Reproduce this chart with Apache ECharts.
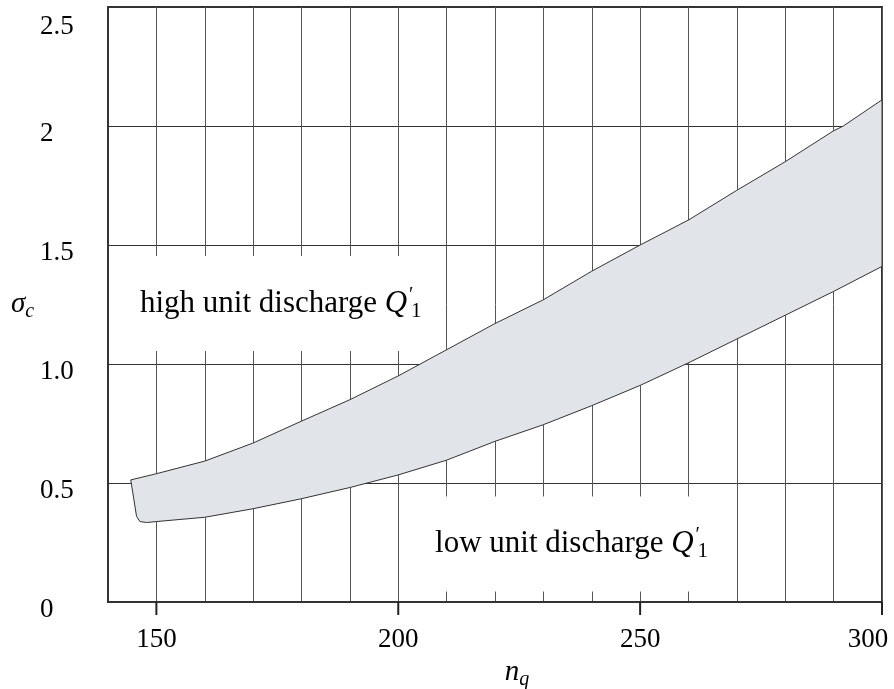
<!DOCTYPE html>
<html lang="en">
<head>
<meta charset="UTF-8">
<title>sigma_c - n_q</title>
<script src="https://cdn.jsdelivr.net/npm/echarts@6/dist/echarts.min.js"></script>
<style>html,body{margin:0;padding:0;background:#fff;}</style>
</head>
<body>
<div id="main" style="width:894px;height:689px;"></div>
<script type="text/javascript">

// upper boundary of the band (n_q, sigma_c)
const upperNq    = [144.7, 150,   160,   170,   180,  190,  200,  210,  220,  230,  240,  250,  260,   270,  280,  290,  292, 300];
const upperSigma = [0.513, 0.539, 0.592, 0.668, 0.76, 0.85, 0.95, 1.06, 1.17, 1.27, 1.39, 1.50, 1.605, 1.73, 1.85, 1.98, 2.0, 2.11];

// lower boundary of the band, left to right
const lowerNq    = [145.9, 146.6, 148,   150,   160,   170,   180,   190,   200,   210,   220,   230,   240,   250,  260,   270,   280,   290,   300];
const lowerSigma = [0.36,  0.338, 0.334, 0.338, 0.356, 0.392, 0.434, 0.481, 0.534, 0.596, 0.675, 0.745, 0.825, 0.91, 1.005, 1.105, 1.205, 1.305, 1.41];

const xTickValues = [150, 200, 250, 300];
const yTickValues = [0, 0.5, 1, 1.5, 2, 2.5];
const yTickLabels = ['0', '0.5', '1.0', '1.5', '2', '2.5'];

// the two notes, anchored at the left edge of the text
const noteNq    = [146.6, 207.6];
const noteSigma = [1.254, 0.244];
const noteText  = ['high unit discharge', 'low unit discharge'];

const serif = "'Liberation Serif', 'DejaVu Serif', serif";

let myChart = echarts.init(document.getElementById('main'));

let option = {
    backgroundColor: '#fff',
    animation: false,
    grid: {
        left: 108, right: 12, top: 7, bottom: 87,
        outerBoundsMode: 'none',
        show: true,
        borderColor: '#333',
        borderWidth: 2
    },
    xAxis: {
        // grid every 10, labels only on the 50s
        type: 'value',
        min: 140, max: 300, interval: 10,
        name: '{n|n}{s|q}',
        nameLocation: 'middle',
        nameGap: 50,
        nameTextStyle: {
            padding: [0, 0, 0, 44],
            rich: {
                n: { fontFamily: serif, fontStyle: 'italic', fontSize: 29, color: '#000' },
                s: { fontFamily: serif, fontStyle: 'italic', fontSize: 20, color: '#000', padding: [14, 0, 0, 0] }
            }
        },
        axisLine: { lineStyle: { color: '#333', width: 2 } },
        axisTick: { show: false },
        axisLabel: {
            margin: 24,
            formatter: function (v) {
                if (xTickValues.indexOf(v) < 0) return '';
                // last label sits a bit left of its tick, as in the original
                return v === 300 ? '{e|' + v + '}' : '{n|' + v + '}';
            },
            rich: {
                n: { fontFamily: serif, fontSize: 27, color: '#000' },
                e: { fontFamily: serif, fontSize: 27, color: '#000', padding: [0, 28, 0, 0] }
            }
        },
        splitLine: { show: true, lineStyle: { color: '#555', width: 1 } }
    },
    yAxis: {
        type: 'value',
        min: 0, max: 2.5, interval: 0.5,
        name: '{i|σ}{s|c}',
        nameLocation: 'middle',
        nameRotate: 0,
        nameGap: 58,
        nameTextStyle: {
            rich: {
                i: { fontFamily: serif, fontStyle: 'italic', fontSize: 29, color: '#000' },
                s: { fontFamily: serif, fontStyle: 'italic', fontSize: 20, color: '#000', padding: [14, 0, 0, 0] }
            }
        },
        axisLine: { show: true, lineStyle: { color: '#333', width: 2 } },
        axisTick: { show: false },
        axisLabel: {
            align: 'left',
            margin: 68,
            formatter: function (v) {
                let idx = yTickValues.indexOf(v);
                let txt = idx >= 0 ? yTickLabels[idx] : '';
                return v === 2.5 ? '{t|' + txt + '}' : '{n|' + txt + '}';
            },
            rich: {
                n: { fontFamily: serif, fontSize: 27, color: '#000', padding: [16, 0, 0, 0] },
                t: { fontFamily: serif, fontSize: 27, color: '#000', padding: [40, 0, 0, 0] }
            }
        },
        splitLine: { show: true, lineStyle: { color: '#333', width: 1 } }
    },
    series: [
        {
            // outward ticks under the labelled n_q values
            type: 'custom',
            z: 10,
            coordinateSystem: 'cartesian2d',
            clip: false,
            data: xTickValues.map(function (v) { return [v, 0]; }),
            renderItem: function (params, api) {
                let p = api.coord([api.value(0), api.value(1)]);
                return {
                    type: 'rect',
                    z2: 100,
                    shape: { x: p[0] - 1, y: p[1], width: 2, height: 13 },
                    style: { fill: '#222' }
                };
            }
        },
        {
            // white boxed notes that hide the grid behind them
            type: 'custom',
            z: 2,
            coordinateSystem: 'cartesian2d',
            data: noteNq.map(function (x, i) { return [x, noteSigma[i], i]; }),
            renderItem: function (params, api) {
                let p = api.coord([api.value(0), api.value(1)]);
                let i = api.value(2);
                return {
                    type: 'text',
                    x: p[0] - 14,
                    y: p[1],
                    style: {
                        text: '{r|' + noteText[i] + ' }{q|Q}{p|′}{s|1}',
                        align: 'left',
                        verticalAlign: 'middle',
                        backgroundColor: '#fff',
                        padding: [29, 14, 29, 14],
                        rich: {
                            r: { fontFamily: serif, fontSize: 31, fill: '#000' },
                            q: { fontFamily: serif, fontStyle: 'italic', fontSize: 31, fill: '#000' },
                            p: { fontFamily: serif, fontSize: 20, fill: '#000', width: 0, padding: [0, 0, 16, 2] },
                            s: { fontFamily: serif, fontSize: 21, fill: '#000', padding: [16, 0, 0, 2] }
                        }
                    }
                };
            }
        },
        {
            // shaded band
            type: 'custom',
            z: 3,
            coordinateSystem: 'cartesian2d',
            data: [[0]],
            renderItem: function (params, api) {
                let pts = [];
                for (let i = 0; i < upperNq.length; i++) {
                    pts.push(api.coord([upperNq[i], upperSigma[i]]));
                }
                for (let i = lowerNq.length - 1; i >= 0; i--) {
                    pts.push(api.coord([lowerNq[i], lowerSigma[i]]));
                }
                return {
                    type: 'polygon',
                    shape: { points: pts },
                    style: { fill: '#e1e4e9', stroke: '#333', lineWidth: 1 }
                };
            }
        }
    ]
};

myChart.setOption(option);
</script>
</body>
</html>
